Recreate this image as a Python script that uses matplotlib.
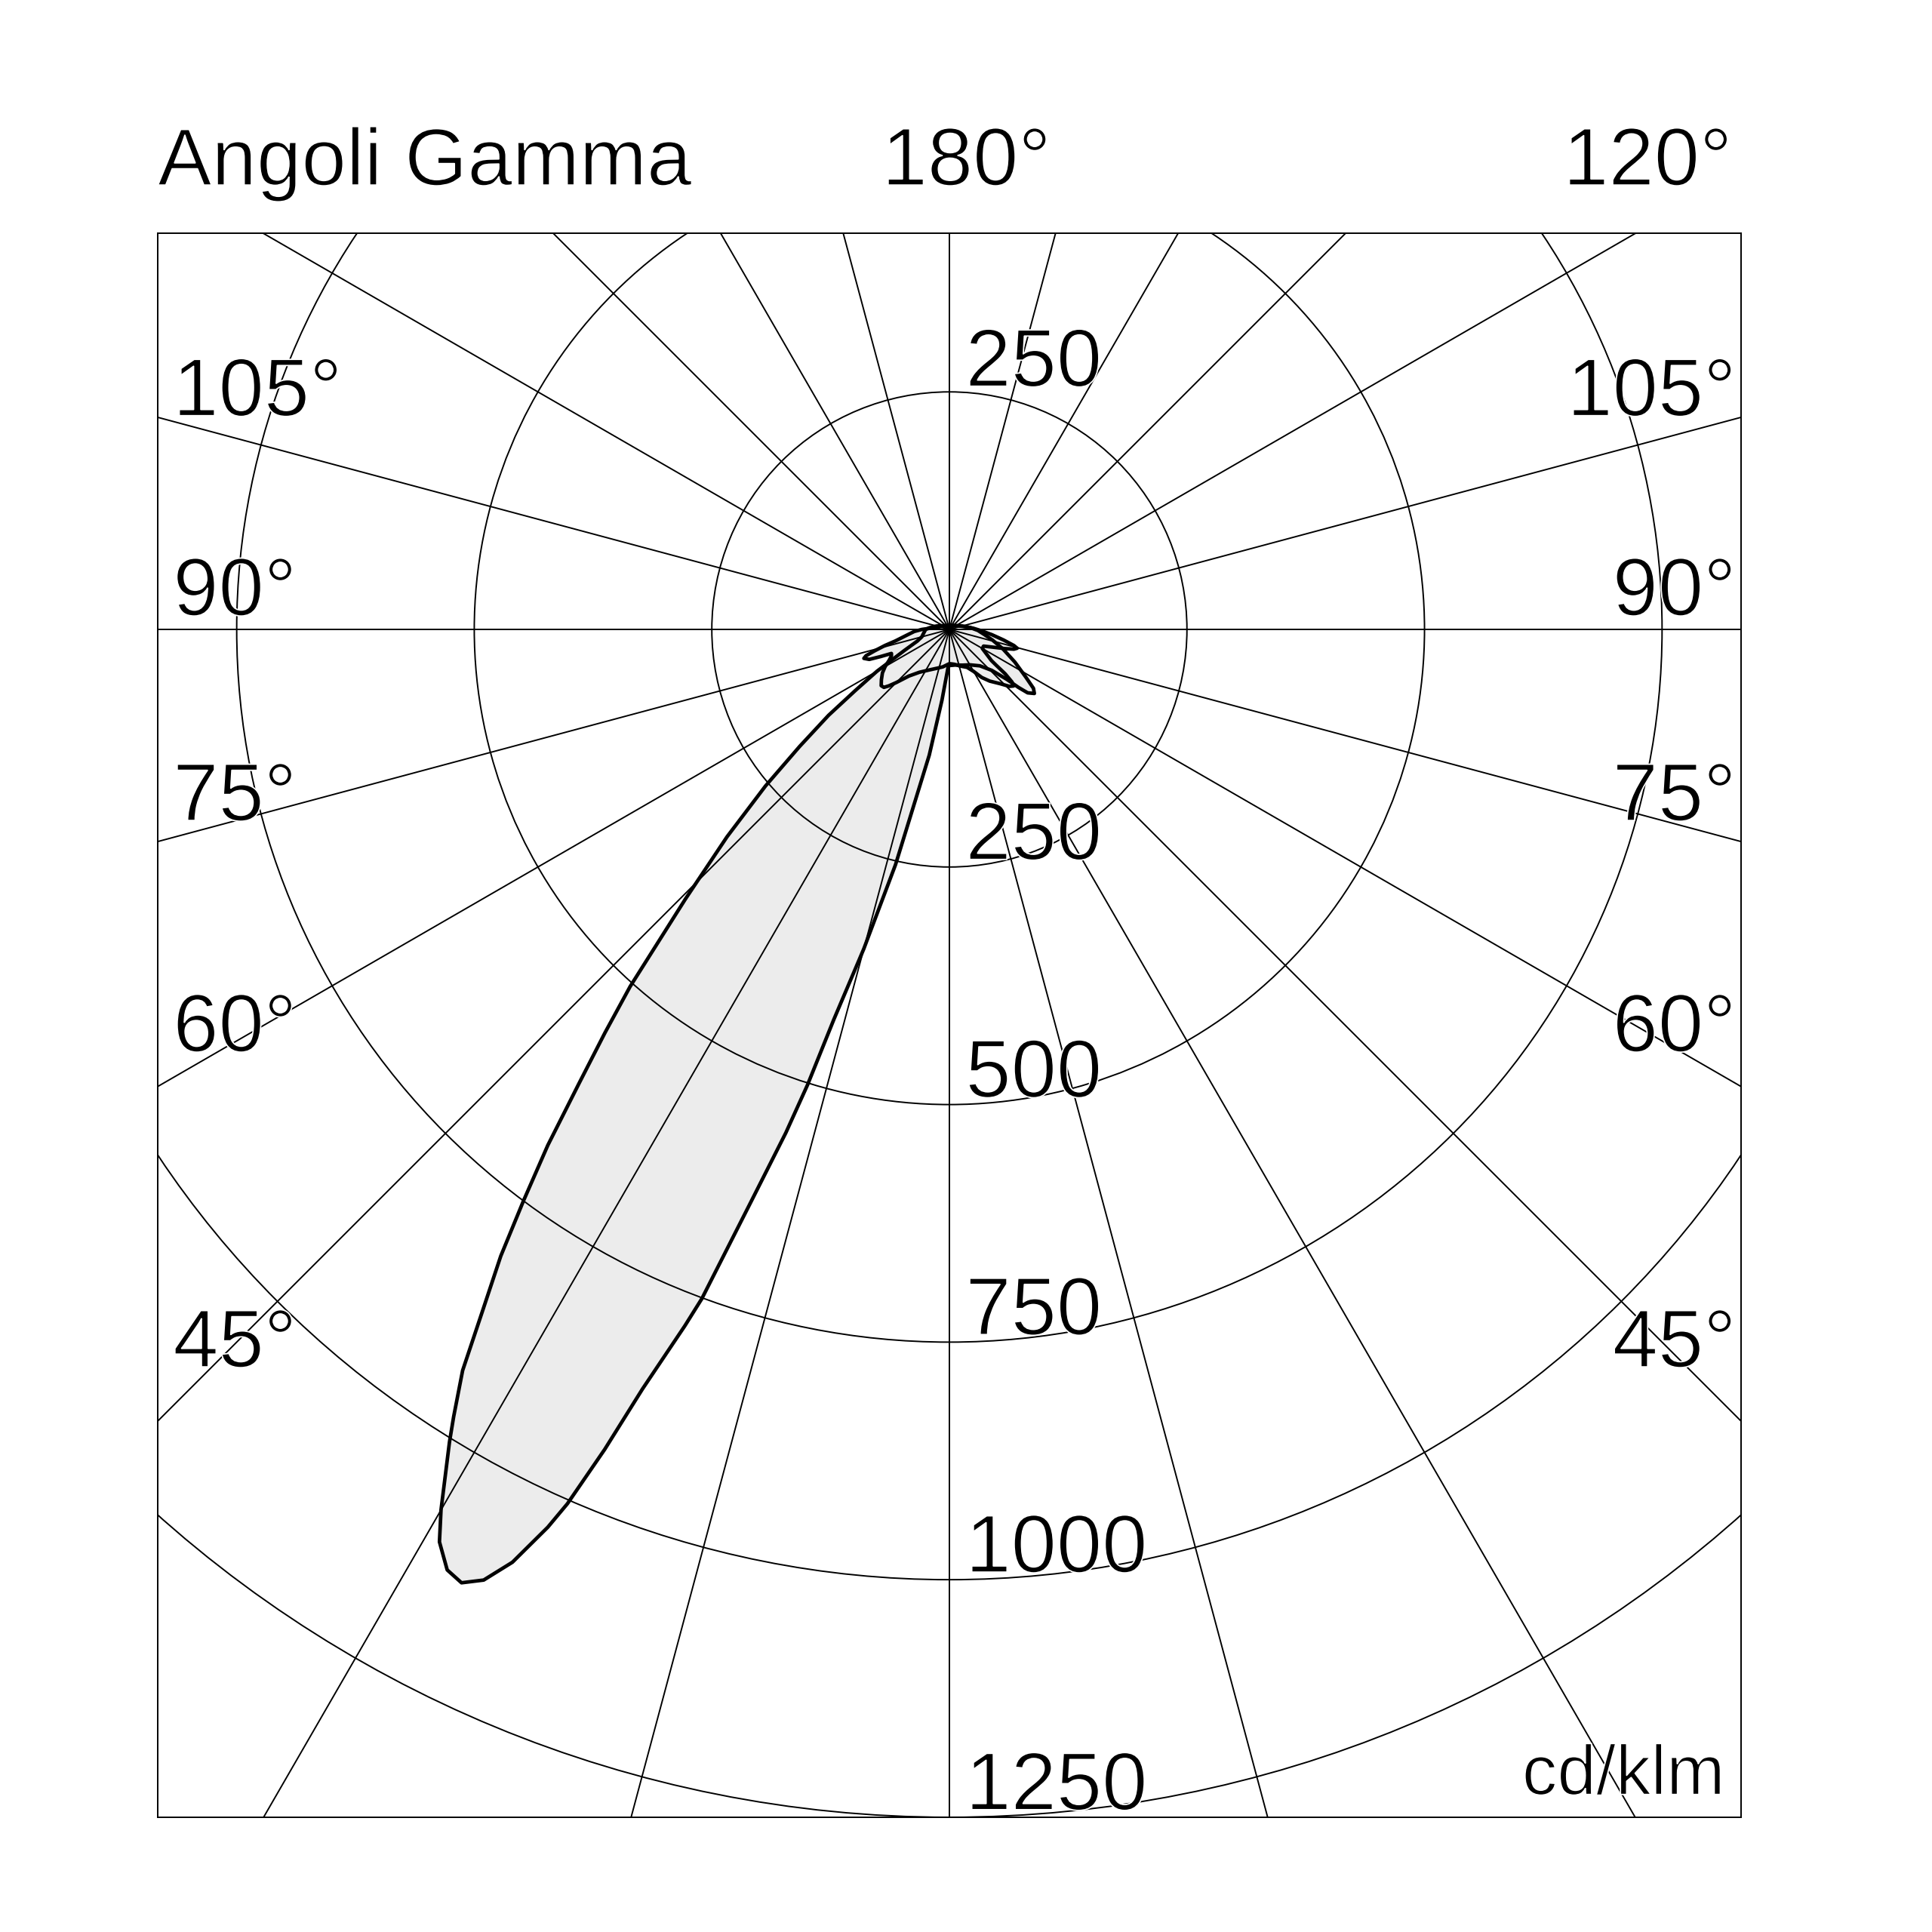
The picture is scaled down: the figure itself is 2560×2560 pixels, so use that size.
import numpy as np
import matplotlib
matplotlib.use("Agg")
import matplotlib.pyplot as plt
from matplotlib.patches import Polygon, Circle
import matplotlib.patheffects as pe

plt.rcParams['font.family'] = ['Liberation Sans', 'DejaVu Sans']

# ---------------- data (gamma angle in degrees, + = left half, intensity in cd/klm)
main_gamma = [-180, -150, -120, -105, -95, -88, -81.8, -76, -70, -63.5, -58, -55, -53, -51, -50, -49,
              -46, -40, -30, -20, -10,
              0, 2, 6, 9.1, 12.9, 15.0, 16.5, 17.3, 18.0, 19.1, 20.3, 20.8, 22.0, 22.8, 23.6, 24.1, 25.1,
              26.1, 27.1, 28.1, 29.2, 30.0, 31.6, 32.2, 33.3, 34.4, 35.6, 36.7, 37.9, 39.2, 40.5, 41.8,
              44.4, 47.0, 49.6, 52.0, 54.6, 57, 60, 65, 70, 75, 80, 90, 95, 105, 120, 150, 180]
main_cd = [4, 5, 8, 14, 22, 30, 37, 47, 60, 77, 95, 108, 112, 106, 95, 80,
           62, 50, 43, 40, 38,
           38, 40, 75, 134, 254, 348, 428, 502, 557, 636, 751, 784, 862, 936, 1004, 1035, 1084,
           1114, 1127, 1122, 1100, 1070, 1004, 979, 933, 870, 811, 750, 688, 617, 558, 504,
           397, 320, 254, 200, 156, 118, 88, 52, 36, 30, 28, 25, 21, 14, 8, 5, 4]

side_gamma = [-180, -150, -120, -105, -98, -93, -88, -83, -79, -76, -74.5, -73, -71, -68, -64, -60,
              -56, -53.5, -52.6, -51.5, -50, -48.6, -46.5, -43, -38, -34, -30, -25, -16, -8,
              0, 10, 18, 27, 35, 41, 45, 47, 48.5, 50.5, 53.5, 57, 60, 63, 65.5, 67.5, 68.5, 69.5,
              71.3, 72.5, 74, 76, 78, 82, 86.7, 90, 95, 100, 110, 130, 180]
side_cd = [4, 5, 8, 13, 19, 25, 33, 45, 58, 70, 74, 71, 62, 50, 40, 40,
           48, 55, 62, 75, 86, 90, 87, 78, 69, 61, 51, 44, 40, 37,
           36, 40, 43, 48, 55, 65, 79, 87, 92, 93, 89, 84, 78, 71, 67, 66, 78, 90,
           95, 92, 82, 70, 58, 46, 37, 29, 18, 13, 9, 6, 4]

ring_values = [250, 500, 750, 1000, 1250]
ring_labels = ["250", "500", "750", "1000", "1250"]
spoke_step = 15
angle_labels = ["105°", "90°", "75°", "60°", "45°"]
top_labels = ["180°", "120°"]
title = "Angoli Gamma"
unit = "cd/klm"

# ---------------- figure
fig = plt.figure(figsize=(25.6, 25.6), dpi=100)
ax = fig.add_axes([0.0816, 0.0594, 0.8196, 0.8199])
ax.set_xlim(-833, 833)
ax.set_ylim(-1250, 417)
ax.set_aspect('equal', adjustable='box')
ax.set_xticks([])
ax.set_yticks([])
for s in ax.spines.values():
    s.set_linewidth(1.4)
    s.set_color('black')


def to_xy(g, r):
    g = np.radians(np.asarray(g, float))
    r = np.asarray(r, float)
    return -r * np.sin(g), -r * np.cos(g)


curves = [(main_gamma, main_cd), (side_gamma, side_cd)]
# fills
for g, r in curves:
    x, y = to_xy(g, r)
    ax.add_patch(Polygon(np.column_stack([x, y]), closed=True, facecolor='#ececec',
                         edgecolor='none', zorder=1))

# grid
for R in ring_values:
    ax.add_patch(Circle((0, 0), R, fill=False, edgecolor='black', linewidth=1.4, zorder=2))
for a in np.arange(0, 360, spoke_step):
    x, y = to_xy([a], [3000])
    ax.plot([0, x[0]], [0, y[0]], color='black', linewidth=1.4, zorder=2)

# outlines
for g, r in curves:
    x, y = to_xy(g, r)
    ax.add_patch(Polygon(np.column_stack([x, y]), closed=True, facecolor='none',
                         edgecolor='black', linewidth=3.4, joinstyle='round', zorder=3))

fs = 78
thin = [pe.Normal(), pe.Stroke(linewidth=1.3, foreground='white')]


def label(x, y, s, ha, size=fs):
    t = ax.text(x, y, s, fontsize=size, ha=ha, va='baseline', zorder=4, clip_on=False)
    t.set_path_effects(thin)
    return t


# title and top angle labels
label(-833, 467.7, title, 'left', size=77)
label(-71, 467.7, top_labels[0], 'left')
label(824, 467.7, top_labels[1], 'right')

# side angle labels
side_y = [225, 15, -201, -444, -776]
for lab, y in zip(angle_labels, side_y):
    label(-817, y, lab, 'left')
    label(828, y, lab, 'right')

# ring value labels
label(17, ring_values[0] + 6, ring_labels[0], 'left')
for R, lab in zip(ring_values, ring_labels):
    label(17, -R + 8, lab, 'left')

label(816, -1226, unit, 'right', size=67)

fig.savefig("out.png", dpi=100, facecolor='white')
